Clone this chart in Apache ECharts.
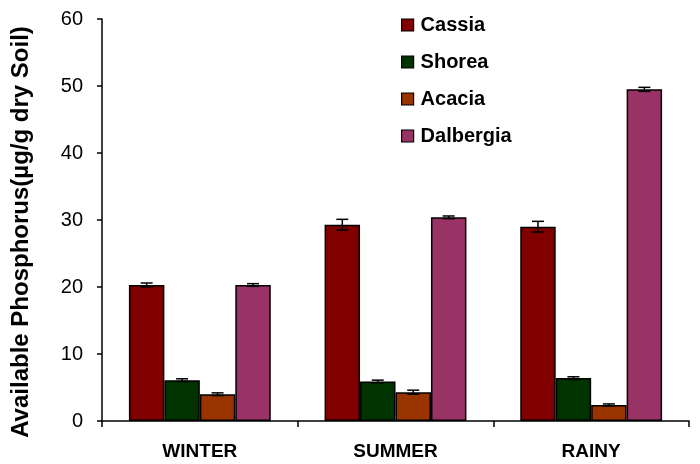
<!DOCTYPE html>
<html><head><meta charset="utf-8">
<script src="https://cdn.jsdelivr.net/npm/echarts@6/dist/echarts.min.js"></script>
<style>html,body{margin:0;padding:0;background:#fff}#c{width:700px;height:464px}</style>
</head><body><div id="c"></div>
<script>
var categories = ['WINTER', 'SUMMER', 'RAINY'];
var seriesNames = ['Cassia', 'Shorea', 'Acacia', 'Dalbergia'];
var cassia = [20.3, 29.3, 29.0];
var shorea = [6.1, 5.9, 6.4];
var acacia = [4.0, 4.3, 2.4];
var dalbergia = [20.3, 30.4, 49.5];
var cassiaErr = [0.3, 0.8, 0.8];
var shoreaErr = [0.2, 0.2, 0.2];
var acaciaErr = [0.2, 0.3, 0.15];
var dalbergiaErr = [0.2, 0.2, 0.3];
var yTicks = [0, 10, 20, 30, 40, 50, 60];
var colors = ['#800000', '#003300', '#993300', '#993366'];

var values = [cassia, shorea, acacia, dalbergia];
var errs = [cassiaErr, shoreaErr, acaciaErr, dalbergiaErr];
var catGap = 0.275;
var FONT = 'Liberation Sans, Arial, sans-serif';

var series = [];
values.forEach(function (v, i) {
  series.push({
    name: seriesNames[i], type: 'bar', data: v,
    barGap: '0%', barCategoryGap: '27.5%',
    itemStyle: { color: colors[i], borderColor: '#000', borderWidth: 1.5 }
  });
});
values.forEach(function (v, i) {
  var d = v.map(function (val, j) { return [j, val, errs[i][j]]; });
  series.push({
    type: 'custom', data: d, z: 10, silent: true,
    renderItem: function (params, api) {
      var x = api.value(0), y = api.value(1), e = api.value(2);
      var band = api.size([1, 0])[0];
      var groupW = band * (1 - catGap);
      var bw = groupW / 4;
      var c = api.coord([x, y]);
      var cx = c[0] - groupW / 2 + bw * (i + 0.5);
      var top = api.coord([x, y + e])[1];
      var bot = api.coord([x, y - e])[1];
      var hw = 6;
      var st = { stroke: '#000', lineWidth: 1.5 };
      return { type: 'group', children: [
        { type: 'line', shape: { x1: cx, y1: top, x2: cx, y2: bot }, style: st },
        { type: 'line', shape: { x1: cx - hw, y1: top, x2: cx + hw, y2: top }, style: st },
        { type: 'line', shape: { x1: cx - hw, y1: bot, x2: cx + hw, y2: bot }, style: st }
      ]};
    }
  });
});

var chart = echarts.init(document.getElementById('c'));
chart.setOption({
  animation: false,
  textStyle: { fontFamily: FONT },
  grid: { left: 102, right: 11, top: 19, bottom: 43 },
  legend: {
    orient: 'vertical', left: 396, top: 10, itemGap: 17,
    itemWidth: 12, itemHeight: 12, icon: 'rect',
    data: seriesNames,
    textStyle: { fontSize: 20, fontWeight: 'bold', color: '#000', fontFamily: FONT, padding: [0, 0, 0, 2] },
    itemStyle: { borderColor: '#000', borderWidth: 1.2 }
  },
  xAxis: {
    type: 'category', data: categories,
    axisLine: { lineStyle: { color: '#000', width: 1.5 } },
    axisTick: { show: true, length: 6, lineStyle: { color: '#000', width: 1.5 } },
    axisLabel: { fontSize: 19, fontWeight: 'bold', color: '#000', margin: 21, fontFamily: FONT }
  },
  yAxis: {
    type: 'value', min: yTicks[0], max: yTicks[yTicks.length - 1], interval: 10,
    name: 'Available Phosphorus(µg/g dry Soil)', nameLocation: 'middle', nameGap: 69,
    nameTextStyle: { fontSize: 24, fontWeight: 'bold', color: '#000', fontFamily: FONT, padding: [0, 24, 0, 0] },
    axisLine: { show: true, lineStyle: { color: '#000', width: 1.5 } },
    axisTick: { show: true, length: 5, lineStyle: { color: '#000', width: 1.5 } },
    axisLabel: { fontSize: 20, color: '#000', margin: 19, fontFamily: FONT },
    splitLine: { show: false }
  },
  series: series
});
</script></body></html>
